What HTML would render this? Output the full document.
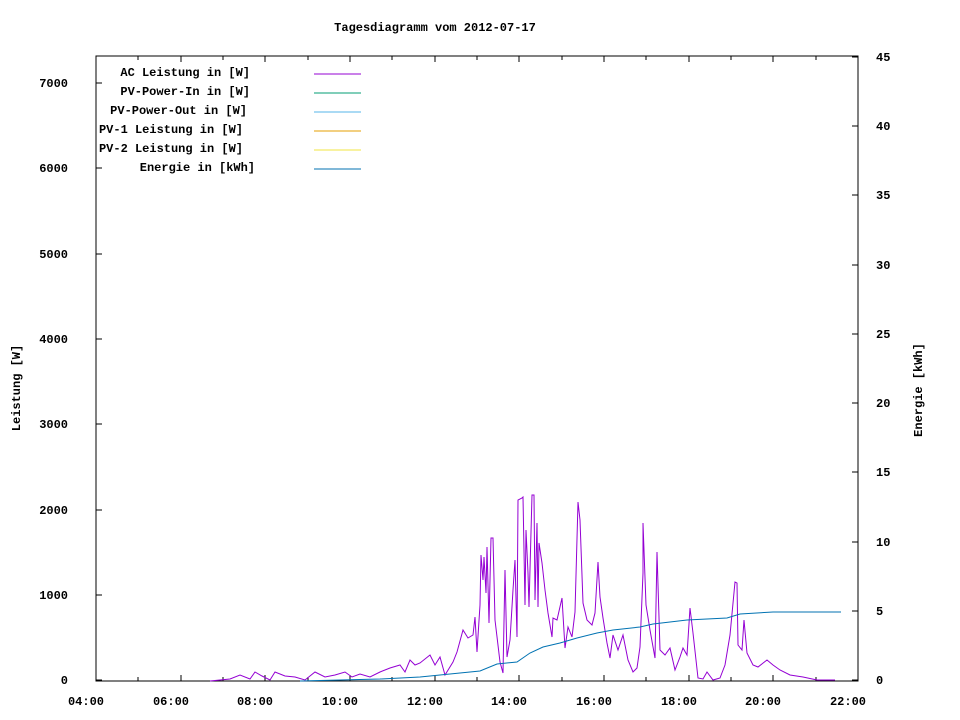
<!DOCTYPE html>
<html><head><meta charset="utf-8"><style>
html,body{margin:0;padding:0;background:#fff}
svg{display:block}
text{font-family:"Liberation Mono","DejaVu Sans Mono",monospace;font-size:12px;font-weight:bold;fill:#000}
</style></head><body>
<svg width="960" height="720" viewBox="0 0 960 720" xmlns="http://www.w3.org/2000/svg">
<text x="435" y="31" text-anchor="middle">Tagesdiagramm vom 2012-07-17</text>
<rect x="96" y="56" width="762" height="625" fill="none" stroke="#000" stroke-width="1"/>
<g stroke="#000" stroke-width="1">
<!-- left ticks -->
<path d="M96 680h6M96 595h6M96 510h6M96 424h6M96 339h6M96 254h6M96 168h6M96 83h6"/>
<!-- right ticks -->
<path d="M858 680h-6M858 611h-6M858 542h-6M858 472h-6M858 403h-6M858 334h-6M858 265h-6M858 195h-6M858 126h-6M858 57h-6"/>
<!-- x ticks -->
<path d="M96 681v-6M138 681v-4M181 681v-6M223 681v-4M265 681v-6M308 681v-4M350 681v-6M392 681v-4M435 681v-6M477 681v-4M519 681v-6M562 681v-4M604 681v-6M646 681v-4M689 681v-6M731 681v-4M773 681v-6M816 681v-4M858 681v-6"/>
<path d="M96 56v6M138 56v4M181 56v6M223 56v4M265 56v6M308 56v4M350 56v6M392 56v4M435 56v6M477 56v4M519 56v6M562 56v4M604 56v6M646 56v4M689 56v6M731 56v4M773 56v6M816 56v4M858 56v6"/>
</g>
<g text-anchor="end">
<text x="68" y="684">0</text><text x="68" y="599">1000</text><text x="68" y="514">2000</text><text x="68" y="428">3000</text><text x="68" y="343">4000</text><text x="68" y="258">5000</text><text x="68" y="172">6000</text><text x="68" y="87">7000</text>
</g>
<g>
<text x="876" y="684">0</text><text x="876" y="615">5</text><text x="876" y="546">10</text><text x="876" y="476">15</text><text x="876" y="407">20</text><text x="876" y="338">25</text><text x="876" y="269">30</text><text x="876" y="199">35</text><text x="876" y="130">40</text><text x="876" y="61">45</text>
</g>
<g text-anchor="middle">
<text x="86" y="705">04:00</text><text x="171" y="705">06:00</text><text x="255" y="705">08:00</text><text x="340" y="705">10:00</text><text x="425" y="705">12:00</text><text x="509" y="705">14:00</text><text x="594" y="705">16:00</text><text x="679" y="705">18:00</text><text x="763" y="705">20:00</text><text x="848" y="705">22:00</text>
</g>
<text transform="translate(20,388) rotate(-90)" text-anchor="middle">Leistung [W]</text>
<text transform="translate(922,390) rotate(-90)" text-anchor="middle">Energie [kWh]</text>
<g text-anchor="end">
<text x="250" y="76">AC Leistung in [W]</text>
<text x="250" y="95">PV-Power-In in [W]</text>
<text x="247" y="114">PV-Power-Out in [W]</text>
<text x="243" y="133">PV-1 Leistung in [W]</text>
<text x="243" y="152">PV-2 Leistung in [W]</text>
<text x="255" y="171">Energie in [kWh]</text>
</g>
<g stroke-width="1">
<path d="M314 74h47" stroke="#9400d3"/>
<path d="M314 93h47" stroke="#009e73"/>
<path d="M314 112h47" stroke="#56b4e9"/>
<path d="M314 131h47" stroke="#e69f00"/>
<path d="M314 150h47" stroke="#f0e442"/>
<path d="M314 169h47" stroke="#0072b2"/>
</g>
<polyline fill="none" stroke="#9400d3" stroke-width="1" points="210,681 230,679 240,675 250,679 255,672 262,676 270,680 275,672 285,676 295,677 305,680 315,672 325,677 335,675 345,672 352,677 360,674 370,677 380,672 390,668 400,665 405,672 410,660 415,665 420,663 430,655 435,665 440,657 445,675 453,662 457,652 463,630 468,638 473,635 475,617 477,652 480,605 481,555 483,580 484,557 486,593 487,547 489,623 491,538 493,538 495,620 500,662 503,673 505,570 507,657 510,640 513,590 515,560 517,637 518,500 522,498 523,497 525,605 526,530 528,573 529,607 532,495 534,495 535,600 537,523 538,607 539,543 542,563 545,590 548,613 552,637 553,618 557,620 562,598 565,648 568,627 572,637 575,612 578,502 580,520 583,603 587,620 592,625 595,613 598,562 600,597 603,618 607,643 610,658 613,635 618,650 623,635 628,660 633,672 637,668 640,647 643,573 643,523 646,605 650,630 655,658 657,552 660,650 665,655 670,648 675,670 680,657 683,648 687,655 690,608 693,633 698,678 703,679 707,672 713,680 720,678 725,665 730,635 735,582 737,583 738,645 742,650 744,620 747,653 753,665 758,667 767,660 773,665 780,670 790,675 803,677 817,680 835,680"/>
<polyline fill="none" stroke="#0072b2" stroke-width="1" points="300,681 340,680 380,679 420,677 430,676 460,673 480,671 497,664 517,662 530,653 543,647 560,643 577,638 597,633 613,630 640,627 653,624 687,620 727,618 740,614 773,612 841,612"/>
</svg>
</body></html>
